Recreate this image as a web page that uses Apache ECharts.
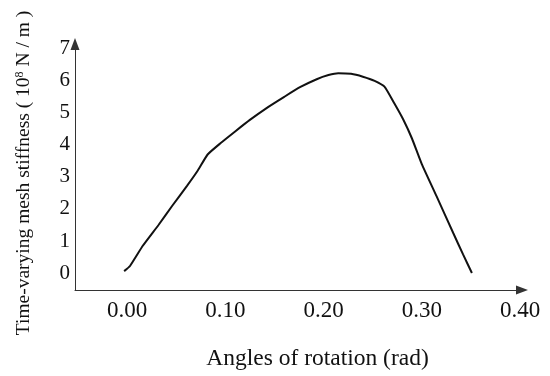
<!DOCTYPE html>
<html>
<head>
<meta charset="utf-8">
<script src="https://cdn.jsdelivr.net/npm/echarts@6/dist/echarts.min.js"></script>
<style>html,body{margin:0;padding:0;background:#fff}#c{width:550px;height:376px}</style>
</head>
<body>
<div id="c"></div>
<script>
const angles = [-0.003, 0.003, 0.016, 0.032, 0.046, 0.061, 0.072, 0.082, 0.095, 0.110, 0.125, 0.142, 0.160, 0.176, 0.193, 0.205, 0.215, 0.228, 0.240, 0.252, 0.262, 0.272, 0.281, 0.290, 0.300, 0.315, 0.332, 0.342, 0.351];
const stiffness = [0.06, 0.22, 0.85, 1.50, 2.10, 2.72, 3.20, 3.70, 4.05, 4.42, 4.78, 5.15, 5.50, 5.80, 6.05, 6.18, 6.24, 6.22, 6.13, 6.00, 5.82, 5.30, 4.80, 4.20, 3.40, 2.40, 1.25, 0.58, 0.00];
const xTicks = [0, 0.1, 0.2, 0.3, 0.4];
const yTicks = [0, 1, 2, 3, 4, 5, 6, 7];

const font = '"Liberation Serif", "Times New Roman", serif';
const chart = echarts.init(document.getElementById('c'));
chart.setOption({
  animation: false,
  grid: { left: 75, right: 28, top: 44, bottom: 84, containLabel: false },
  xAxis: {
    type: 'value', min: -0.053, max: 0.402,
    name: 'Angles of rotation (rad)', nameLocation: 'middle', nameGap: 57,
    nameTextStyle: { fontFamily: font, fontSize: 23.5, color: '#111', padding: [0, 0, 0, 38] },
    axisLine: { show: true, onZero: false, lineStyle: { color: '#333', width: 1 }, symbol: ['none', 'triangle'], symbolSize: [9, 12] },
    axisTick: { show: false },
    splitLine: { show: false },
    axisLabel: { customValues: xTicks, formatter: v => v.toFixed(2), fontFamily: font, fontSize: 23, color: '#111', margin: 9 }
  },
  yAxis: {
    type: 'value', min: -0.53, max: 7.15,
    name: 'Time-varying mesh stiffness ( 10{sup|8} N / m )', nameLocation: 'middle', nameGap: 41, nameRotate: 90,
    nameTextStyle: { fontFamily: font, fontSize: 19.5, color: '#111', padding: [0, 12, 0, 0],
      rich: { sup: { fontFamily: font, fontSize: 12, color: '#111', verticalAlign: 'top', padding: [0, 0, 8, 0] } } },
    axisLine: { show: true, onZero: false, lineStyle: { color: '#333', width: 1 }, symbol: ['none', 'triangle'], symbolSize: [9, 12] },
    axisTick: { show: false },
    splitLine: { show: false },
    axisLabel: { customValues: yTicks, fontFamily: font, fontSize: 21, color: '#111', margin: 5 }
  },
  series: [{
    type: 'line',
    data: angles.map((a, i) => [a, stiffness[i]]),
    showSymbol: false,
    smooth: 0.15,
    lineStyle: { color: '#111', width: 2 }
  }]
});
</script>
</body>
</html>
